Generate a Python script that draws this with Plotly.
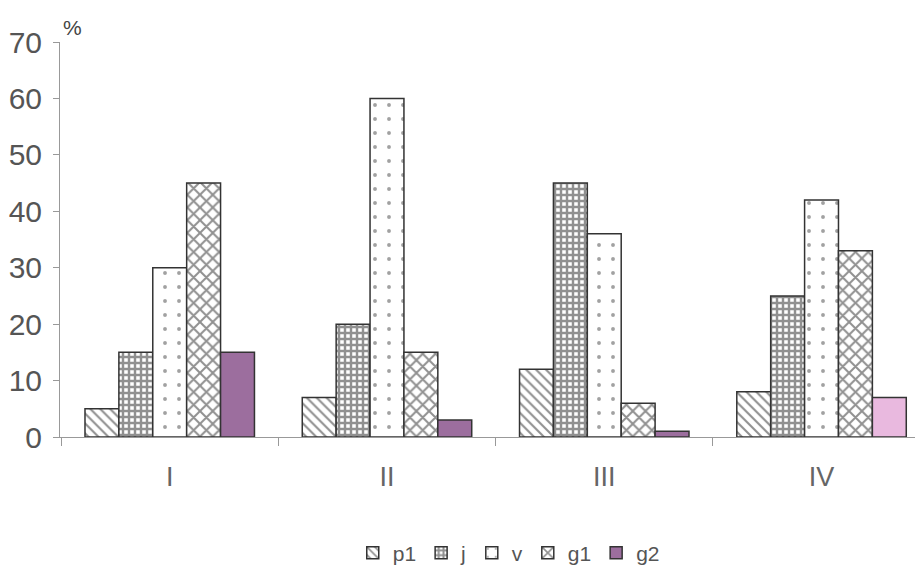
import plotly.graph_objects as go

categories = ["I", "II", "III", "IV"]
series_names = ["p1", "j", "v", "g1", "g2"]
p1 = [5, 7, 12, 8]
j = [15, 20, 45, 25]
v = [30, 60, 36, 42]
g1 = [45, 15, 6, 33]
g2 = [15, 3, 1, 7]
values = [p1, j, v, g1, g2]

patterns = [
    dict(shape="\\", fgcolor="#222", bgcolor="white", size=7, solidity=0.3),
    dict(shape="+", fgcolor="#222", bgcolor="white", size=6, solidity=0.65),
    dict(shape=".", fgcolor="#444", bgcolor="white", size=14, solidity=0.06),
    dict(shape="x", fgcolor="#222", bgcolor="white", size=9, solidity=0.4),
    dict(shape="", fgcolor="#222", bgcolor="white"),
]
g2_colors = ["#9c6e9e", "#9c6e9e", "#9c6e9e", "#e9b9df"]

xs = list(range(len(categories)))
fig = go.Figure()
for i, (name, vals) in enumerate(zip(series_names, values)):
    if name == "g2":
        marker = dict(color=g2_colors, line=dict(color="#333", width=1.5))
    else:
        marker = dict(color="white", pattern=patterns[i], line=dict(color="#333", width=1.5))
    fig.add_trace(go.Bar(x=xs, y=vals, name=name, marker=marker))

# the page body has an 8px margin; compensate so the plot sits where the reference has it
fig.update_layout(
    width=915, height=563,
    barmode="group", bargap=0.22, bargroupgap=0,
    paper_bgcolor="white", plot_bgcolor="white",
    margin=dict(l=52, r=0, t=34, b=134, autoexpand=False),
    font=dict(family="Liberation Sans, Arial", color="#555"),
    showlegend=True,
    legend=dict(orientation="h", x=0.52, xanchor="center", y=-0.294, yanchor="middle",
                font=dict(size=21, color="#555"), tracegroupgap=0, itemwidth=30),
)
fig.update_xaxes(
    range=[-0.505, 3.467], tickvals=xs, ticktext=categories, ticks="",
    tickfont=dict(size=27, color="#666"), ticklabelstandoff=16, automargin=False,
    showline=True, linecolor="#999", linewidth=1, showgrid=False, zeroline=False,
    minor=dict(tick0=0.5, dtick=1, ticks="outside", ticklen=8, tickcolor="#999", showgrid=False),
)
fig.update_yaxes(
    range=[0, 70], dtick=10, ticks="outside", ticklen=6, tickcolor="#999", automargin=False,
    tickfont=dict(size=30, color="#555"), showline=True, linecolor="#999", linewidth=1,
    showgrid=False, zeroline=False, ticklabelstandoff=5,
)
fig.add_annotation(text="%", xref="paper", yref="paper", x=0.0, y=1.0, xanchor="left",
                   yanchor="bottom", showarrow=False, xshift=1, yshift=1,
                   font=dict(size=21, color="#444"))
fig.write_html("out.html")
